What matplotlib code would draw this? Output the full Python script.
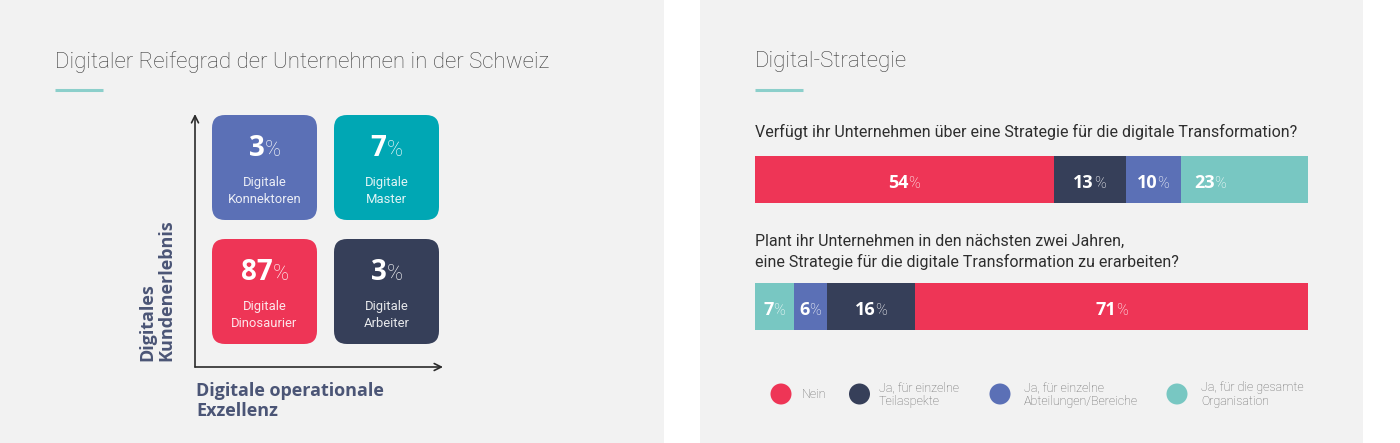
import matplotlib
matplotlib.use("Agg")
import matplotlib.pyplot as plt
from matplotlib.patches import Rectangle, FancyBboxPatch, Circle
from matplotlib.lines import Line2D
import matplotlib.transforms as mtransforms

# ---------------- data ----------------
left_title = "Digitaler Reifegrad der Unternehmen in der Schweiz"
right_title = "Digital-Strategie"

matrix_values = [3, 7, 87, 3]
matrix_labels = ["Digitale\nKonnektoren", "Digitale\nMaster", "Digitale\nDinosaurier", "Digitale\nArbeiter"]
matrix_cols = [0, 1, 0, 1]
matrix_rows = [1, 1, 0, 0]
matrix_colors = ["#5b70b6", "#00a7b4", "#ee3556", "#363f59"]
y_axis_label = "Digitales\nKundenerlebnis"
x_axis_label = "Digitale operationale\nExzellenz"

questions = ["Verfügt ihr Unternehmen über eine Strategie für die digitale Transformation?",
             "Plant ihr Unternehmen in den nächsten zwei Jahren,\neine Strategie für die digitale Transformation zu erarbeiten?"]
categories = ["Nein", "Ja, für einzelne\nTeilaspekte", "Ja, für einzelne\nAbteilungen/Bereiche",
              "Ja, für die gesamte\nOrganisation"]
cat_colors = ["#ee3556", "#363f59", "#5b70b6", "#78c7c2"]
q1_values = [54, 13, 10, 23]        # drawn in order Nein -> gesamte
q2_values = [71, 16, 6, 7]          # drawn in reversed order gesamte -> Nein
q1_order = [0, 1, 2, 3]
q2_order = [3, 2, 1, 0]

# ---------------- figure ----------------
W, H = 1400, 443
DPI = 100
fig = plt.figure(figsize=(W / DPI, H / DPI), dpi=DPI, facecolor="white")

def fx(px):
    return px / W

def fy(py):
    return 1 - py / H

PANEL = "#f2f2f2"
fig.patches.append(Rectangle((fx(0), 0), fx(664), 1, transform=fig.transFigure,
                             facecolor=PANEL, edgecolor="none", zorder=-5))
fig.patches.append(Rectangle((fx(700), 0), fx(663), 1, transform=fig.transFigure,
                             facecolor=PANEL, edgecolor="none", zorder=-5))

TITLE_KW = dict(family="Roboto", weight="light", fontsize=16.0, color="#3c3c3c", va="center", ha="left")
fig.text(fx(55), fy(62), left_title, **TITLE_KW)
fig.text(fx(755), fy(62), right_title, **TITLE_KW)
for x0 in (55, 755):
    fig.lines.append(Line2D([fx(x0), fx(x0 + 48)], [fy(90), fy(90)], transform=fig.transFigure,
                            color="#8ccfcb", linewidth=2.2, solid_capstyle="butt"))

renderer = fig.canvas.get_renderer()

def split_label(ax, x, y, num, num_fs, pct_fs, pct_weight, color="white", gap_px=0.0,
                anchor="center", pad_px=0.0):
    """Draw a bold number followed by a lighter % sign at (x, y)."""
    base = mtransforms.offset_copy(ax.transData, fig=fig, x=0, y=-0.36 * num_fs, units="points")
    t1 = ax.text(x, y, str(num), transform=base, ha="right", va="baseline",
                 fontsize=num_fs, family="Open Sans", weight="bold", color=color, zorder=5)
    t2 = ax.text(x, y, "%", transform=base, ha="left", va="baseline",
                 fontsize=pct_fs, family="Roboto", weight=pct_weight, color=color, zorder=5)
    w1 = t1.get_window_extent(renderer).width
    w2 = t2.get_window_extent(renderer).width
    total = w1 + gap_px + w2
    if anchor == "center":
        junction = -total / 2.0 + w1
    else:
        junction = pad_px + w1
    t1.set_transform(base + mtransforms.ScaledTranslation(junction / DPI, 0, fig.dpi_scale_trans))
    t2.set_transform(base + mtransforms.ScaledTranslation((junction + gap_px) / DPI, 0,
                                                          fig.dpi_scale_trans))

# ---------------- left: maturity matrix ----------------
ax_m = fig.add_axes([fx(195), fy(367), fx(443 - 195), (367 - 114) / H])
ax_m.set_xlim(0, 248)
ax_m.set_ylim(0, 253)
ax_m.axis("off")
ax_m.patch.set_alpha(0)

arrow_kw = dict(arrowstyle="->,head_width=0.25,head_length=0.5", color="#2b2b2b", lw=1.2,
                shrinkA=0, shrinkB=0)
ax_m.annotate("", xy=(0, 253), xytext=(0, 0), arrowprops=arrow_kw, annotation_clip=False)
ax_m.annotate("", xy=(248, 0), xytext=(0, 0), arrowprops=arrow_kw, annotation_clip=False)

BOX = 105
for val, lab, c, r, col in zip(matrix_values, matrix_labels, matrix_cols, matrix_rows, matrix_colors):
    x0 = 17 + c * 122
    y0 = 23 + r * 124
    ax_m.add_patch(FancyBboxPatch((x0, y0), BOX, BOX, boxstyle="round,pad=0,rounding_size=13",
                                  facecolor=col, edgecolor="none", zorder=2))
    cx = x0 + BOX / 2
    split_label(ax_m, cx, y0 + BOX - 31, val, 20, 15.5, "light")
    ax_m.text(cx, y0 + BOX - 76, lab, ha="center", va="center", fontsize=9.4, family="Roboto",
              weight="normal", color="white", alpha=0.88, linespacing=1.35, zorder=5)

AXL_KW = dict(family="Open Sans", weight="bold", fontsize=13, color="#4b5576")
fig.text(fx(157), fy(361), y_axis_label, rotation=90, ha="center", va="bottom",
         multialignment="left", linespacing=1.05, **AXL_KW)
fig.text(fx(196), fy(401), x_axis_label, ha="left", va="center", linespacing=1.2, **AXL_KW)

# ---------------- right: stacked bars ----------------
BAR_H = 47 / 127
ax_b = fig.add_axes([fx(755), fy(330), fx(1308 - 755), 174 / H])
ax_b.set_xlim(0, 100)
ax_b.set_ylim(1 + 0.5 * BAR_H, -0.5 * BAR_H)
ax_b.axis("off")
ax_b.patch.set_alpha(0)

for row, (vals, order) in enumerate([(q1_values, q1_order), (q2_values, q2_order)]):
    left = 0
    for i, k in enumerate(order):
        v = vals[k]
        ax_b.barh(row, v, left=left, height=BAR_H, color=cat_colors[k], edgecolor="none", zorder=2)
        if row == 0 and i == len(order) - 1:
            split_label(ax_b, left, row + 0.015, v, 13, 11.5, "light", anchor="left", pad_px=13)
        else:
            split_label(ax_b, left + v / 2, row + 0.015, v, 13, 11.5, "light")
        left += v

Q_KW = dict(family="Roboto", fontsize=11.5, color="#2e2e2e", ha="left", va="center")
fig.text(fx(755), fy(132), questions[0], **Q_KW)
fig.text(fx(755), fy(252), questions[1], linespacing=1.45, **Q_KW)

# legend
leg_circle_x = [781, 859.5, 1000, 1177]
leg_text_x = [802, 879, 1024, 1201]
LEG_Y = 394
for k in range(len(categories)):
    fig.patches.append(Circle((fx(leg_circle_x[k]) * W / DPI, fy(LEG_Y) * H / DPI), 10.5 / DPI,
                              transform=fig.dpi_scale_trans, facecolor=cat_colors[k], edgecolor="none"))
    fig.text(fx(leg_text_x[k]), fy(LEG_Y + 1), categories[k], family="Roboto", weight="light",
             fontsize=9.0, color="#666666", ha="left", va="center", linespacing=1.1)

fig.savefig("out.png", dpi=DPI, facecolor="white")
